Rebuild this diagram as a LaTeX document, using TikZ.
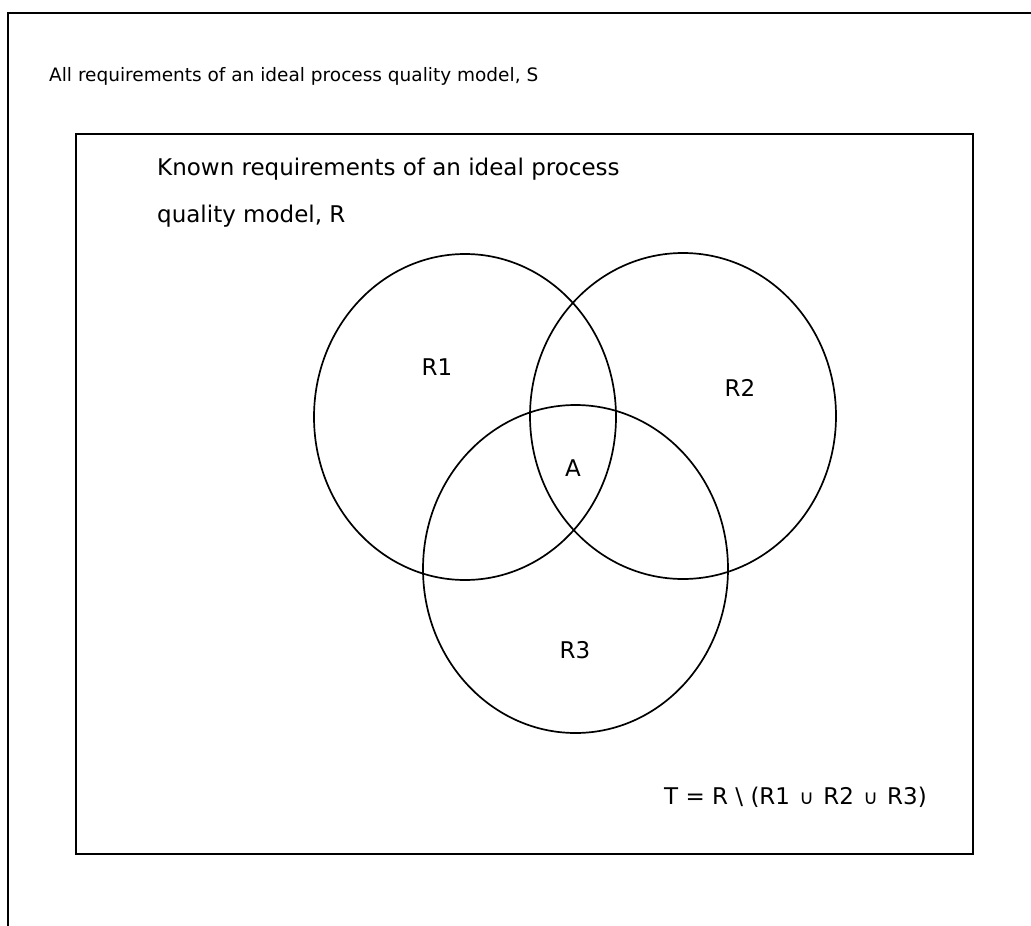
\documentclass[tikz,border=0pt]{standalone}
\usepackage{fontspec}
\setmainfont{DejaVu Sans}
\newcommand{\setcup}{\hspace{2pt}{\fontsize{20}{22}\selectfont∪}\hspace{2pt}}
\begin{document}
\begin{tikzpicture}[x=1pt,y=-1pt,
  frame/.style={draw=black,line width=1.8pt},
  setline/.style={draw=black,line width=1.7pt},
  bigtext/.style={font=\fontsize{23}{47}\selectfont,inner sep=0pt,anchor=base west},
  toptext/.style={font=\fontsize{18.5}{22}\selectfont,inner sep=0pt,anchor=base west},
  setlabel/.style={font=\fontsize{23}{28}\selectfont,inner sep=0pt}]
\useasboundingbox (0,0) rectangle (1031,926);
% universe S: only its top and left edges fall inside the page
\draw[frame] (8,926) -- (8,13) -- (1031,13);
\node[toptext] (S) at (49,81) {All requirements of an ideal process quality model, S};
% known requirements R
\node[frame,minimum width=897pt,minimum height=720pt,inner sep=0pt] (R) at (524.5,494) {};
\node[bigtext] (Rtxt) at (157,175) {Known requirements of an ideal process};
\node[bigtext] (Rtxt2) at (157,222) {quality model, R};
% three overlapping subsets
\draw[setline] (465,417) ellipse [x radius=151pt, y radius=163pt];
\draw[setline] (683,416) ellipse [x radius=153pt, y radius=163pt];
\draw[setline] (575.5,569) ellipse [x radius=152.5pt, y radius=164pt];
\node[setlabel] (R1) at (437,367) {R1};
\node[setlabel] (R2) at (740,388) {R2};
\node[setlabel] (A) at (573,468) {A};
\node[setlabel] (R3) at (575,650) {R3};
\node[setlabel,anchor=west] (T) at (664,797) {T = R \textbackslash{} (R1 \setcup{} R2 \setcup{} R3)};
\end{tikzpicture}
\end{document}
